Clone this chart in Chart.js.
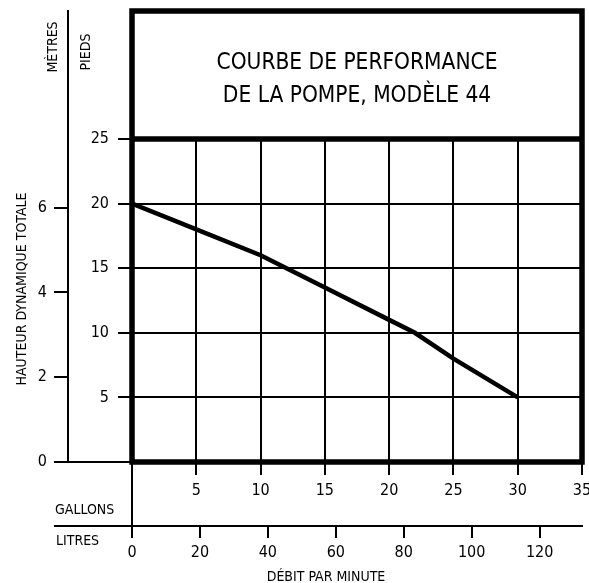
<!DOCTYPE html>
<html>
<head>
<meta charset="utf-8">
<script src="https://cdn.jsdelivr.net/npm/chart.js@4/dist/chart.umd.min.js"></script>
<style>
html, body { margin: 0; padding: 0; background: #fff; }
#wrap { width: 589px; height: 583px; }
</style>
</head>
<body>
<div id="wrap"><canvas id="pumpChart"></canvas></div>
<script>
const FONT = '"Liberation Sans Narrow", "DejaVu Sans Condensed", sans-serif';

const titleLines = ['COURBE DE PERFORMANCE', 'DE LA POMPE, MODÈLE 44'];
// débit (gallons/min) et hauteur (pieds)
const flowGallons = [0, 5, 10, 15, 20, 22, 25, 30];
const headFeet = [20, 18, 16, 13.5, 11, 10, 8, 5];
const gallonTicks = [5, 10, 15, 20, 25, 30, 35];
const litreTicks = [0, 20, 40, 60, 80, 100, 120];
const feetTicks = [5, 10, 15, 20, 25];
const metreTicks = [0, 2, 4, 6];
const LITRES_PER_GALLON = 3.785;
const FEET_PER_METRE = 3.2808;

const tickFont = { family: FONT, size: 16 };

function fixedTicks(list) {
    return scale => { scale.ticks = list.map(v => ({ value: v })); };
}

// largeur fixe des axes, sans marge automatique pour les étiquettes
function fixHeight(h) {
    return s => { s.height = h; s.paddingLeft = 0; s.paddingRight = 0; };
}
function fixWidth(w) {
    return s => { s.width = w; s.paddingTop = 0; s.paddingBottom = 0; };
}

// cadre épais, lignes prolongées et étiquettes hors axes
const framePlugin = {
    id: 'frame',
    afterDraw(chart) {
        const { ctx, chartArea: a, scales } = chart;
        const litresTop = scales.litres.top;
        const metresX = scales.metres.right;
        const titleTop = chart.titleBlock ? chart.titleBlock.top : 11;
        ctx.save();
        ctx.strokeStyle = '#000';
        ctx.lineCap = 'butt';

        // lignes fines
        ctx.lineWidth = 2;
        ctx.beginPath();
        ctx.moveTo(metresX, 10); ctx.lineTo(metresX, a.bottom);
        ctx.moveTo(metresX - 14, a.bottom); ctx.lineTo(a.left, a.bottom);
        ctx.moveTo(metresX - 14, litresTop); ctx.lineTo(a.right + 1, litresTop);
        ctx.moveTo(a.left, a.bottom); ctx.lineTo(a.left, litresTop + 12);
        ctx.stroke();

        // cadre du titre et du graphique
        ctx.lineWidth = 5.5;
        ctx.strokeRect(a.left, titleTop, a.right - a.left, a.bottom - titleTop);
        ctx.beginPath();
        ctx.moveTo(a.left, a.top); ctx.lineTo(a.right, a.top);
        ctx.stroke();

        ctx.fillStyle = '#000';
        ctx.font = '14px ' + FONT;
        ctx.textBaseline = 'middle';

        const vText = (text, x, y) => {
            ctx.save();
            ctx.translate(x, y);
            ctx.rotate(-Math.PI / 2);
            ctx.textAlign = 'center';
            ctx.fillText(text, 0, 0);
            ctx.restore();
        };
        vText('MÈTRES', 53, 47);
        vText('PIEDS', 86, 52);
        vText('HAUTEUR DYNAMIQUE TOTALE', 22, 289);

        ctx.textAlign = 'left';
        ctx.fillText('GALLONS', 55, 510);
        ctx.fillText('LITRES', 56, 541);
        ctx.textAlign = 'center';
        ctx.fillText('DÉBIT PAR MINUTE', 326, 577);
        ctx.restore();
    }
};

const ctx = document.getElementById('pumpChart').getContext('2d');
const pumpChart = new Chart(ctx, {
    type: 'line',
    data: {
        datasets: [{
            label: 'Hauteur',
            data: flowGallons.map((g, i) => ({ x: g, y: headFeet[i] })),
            borderColor: '#000',
            borderWidth: 4.5,
            pointRadius: 0,
            tension: 0,
            fill: false
        }]
    },
    options: {
        responsive: true,
        maintainAspectRatio: false,
        animation: false,
        layout: { padding: { top: 11, left: 0, right: 7, bottom: 0 } },
        plugins: {
            legend: { display: false },
            tooltip: { enabled: false },
            title: {
                display: true,
                text: titleLines,
                fullSize: false,
                color: '#000',
                font: { family: FONT, size: 22.5, weight: 'normal', lineHeight: '33px' },
                padding: { top: 36, bottom: 26 }
            }
        },
        scales: {
            x: {
                type: 'linear',
                position: 'bottom',
                weight: 0,
                min: 0,
                max: 35,
                afterBuildTicks: fixedTicks(gallonTicks),
                afterFit: fixHeight(64),
                border: { display: false },
                grid: { color: '#000', lineWidth: 2, tickLength: 13 },
                ticks: { color: '#000', font: tickFont, padding: 6, maxRotation: 0, autoSkip: false }
            },
            litres: {
                type: 'linear',
                position: 'bottom',
                weight: 1,
                min: 0,
                max: 35 * LITRES_PER_GALLON,
                afterBuildTicks: fixedTicks(litreTicks),
                afterFit: fixHeight(57),
                border: { display: false },
                grid: { color: '#000', lineWidth: 2, tickLength: 12, drawOnChartArea: false },
                ticks: { color: '#000', font: tickFont, padding: 5, maxRotation: 0, autoSkip: false }
            },
            y: {
                type: 'linear',
                position: 'left',
                weight: 0,
                min: 0,
                max: 25,
                afterBuildTicks: fixedTicks(feetTicks),
                afterFit: fixWidth(64),
                border: { display: false },
                grid: { color: '#000', lineWidth: 2, tickLength: 14 },
                ticks: { color: '#000', font: tickFont, padding: 9 }
            },
            metres: {
                type: 'linear',
                position: 'left',
                weight: 1,
                min: 0,
                max: 25 / FEET_PER_METRE,
                afterBuildTicks: fixedTicks(metreTicks),
                afterFit: fixWidth(68),
                border: { display: false },
                grid: { color: '#000', lineWidth: 2, tickLength: 14, drawOnChartArea: false },
                ticks: { color: '#000', font: tickFont, padding: 7 }
            }
        }
    },
    plugins: [framePlugin]
});
</script>
</body>
</html>
